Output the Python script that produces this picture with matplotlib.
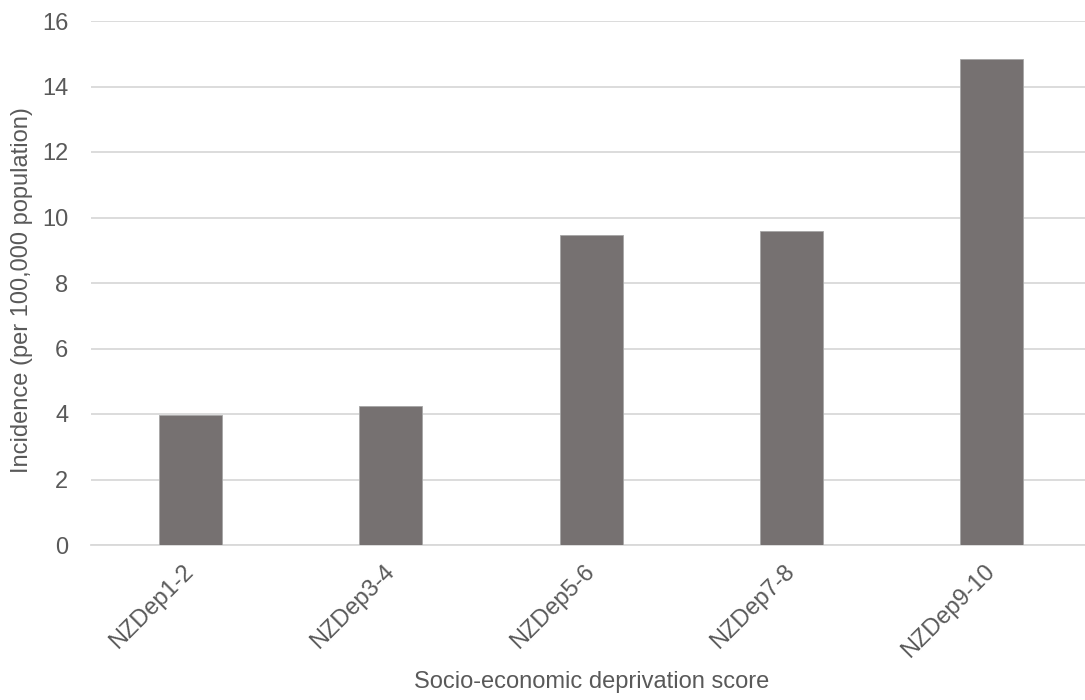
import matplotlib
matplotlib.use("Agg")
import matplotlib.pyplot as plt
import numpy as np

# incidence by deprivation quintile
categories = ["NZDep1-2", "NZDep3-4", "NZDep5-6", "NZDep7-8", "NZDep9-10"]
incidence = [3.98, 4.25, 9.46, 9.59, 14.84]
yticks = [0, 2, 4, 6, 8, 10, 12, 14, 16]

text_col = "#595959"
bar_col = "#767171"
grid_col = "#d9d9d9"

plt.rcParams["font.family"] = ["Liberation Sans", "DejaVu Sans"]

fig = plt.figure(figsize=(10.85, 7.0), dpi=100)
# axes run slightly past the right edge of the figure
ax = fig.add_axes([90.5 / 1085, 155 / 700, 1001.5 / 1085, 524 / 700])

x = np.arange(len(categories))
ax.bar(x, incidence, width=0.315, color=bar_col, edgecolor="#a6a6a6", linewidth=0.6, zorder=3)

ax.set_xlim(-0.5, len(categories) - 0.5)
ax.set_ylim(0, 16)
ax.set_yticks(yticks)
ax.set_xticks(x)
ax.set_xticklabels(categories, rotation=45, ha="right", va="center", rotation_mode="anchor")

ax.yaxis.grid(True, color=grid_col, linewidth=1.3, zorder=0)
ax.set_axisbelow(True)
for s in ["top", "right", "left"]:
    ax.spines[s].set_visible(False)
ax.spines["bottom"].set_color(grid_col)
ax.spines["bottom"].set_linewidth(1.3)

ax.tick_params(axis="both", length=0, labelsize=17, colors=text_col)
ax.tick_params(axis="y", pad=16)
ax.tick_params(axis="x", pad=17)

ax.set_xlabel("Socio-economic deprivation score", fontsize=17, color=text_col, labelpad=6)
ax.set_ylabel("Incidence (per 100,000 population)", fontsize=17, color=text_col)
ax.yaxis.set_label_coords(-0.0575, 0.487)

fig.savefig("out.png", dpi=100)
